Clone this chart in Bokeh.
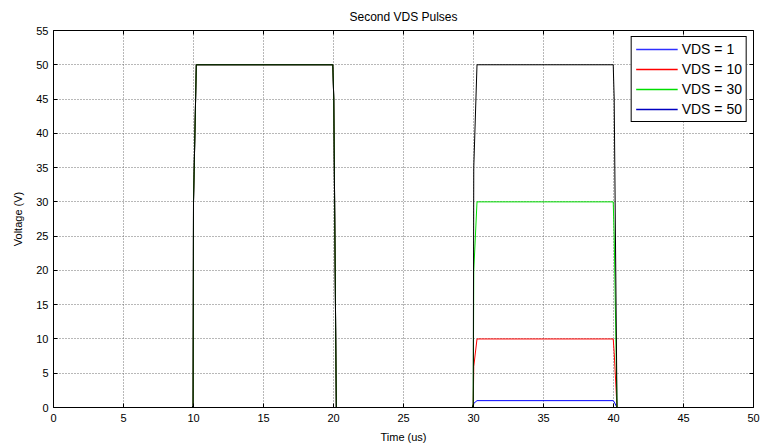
from bokeh.plotting import figure
from bokeh.models import LinearAxis, Range1d, FixedTicker, Legend, LegendItem
from bokeh.embed import file_html
from bokeh.resources import INLINE

# ---- data ----
time_us = [0, 9.9, 9.97, 10.0, 10.2, 19.95, 20.02, 20.2, 29.92, 29.98, 30.02, 30.25, 39.98, 40.05, 40.25, 50]
vds_1 = [0, 0, 0.3, 30, 50, 50, 45, 0, 0, 0.1, 0.6, 1, 1, 0.8, 0, 0]
vds_10 = [0, 0, 0.3, 30, 50, 50, 45, 0, 0, 0.3, 6, 10, 10, 8, 0, 0]
vds_30 = [0, 0, 0.3, 30, 50, 50, 45, 0, 0, 0.5, 20, 30, 30, 25, 0, 0]
vds_50 = [0, 0, 0.3, 30, 50, 50, 45, 0, 0, 0.5, 35, 50, 50, 45, 0, 0]
series_labels = ["VDS = 1", "VDS = 10", "VDS = 30", "VDS = 50"]
line_colors = ["#0000FF", "#FF0000", "#00DD00", "#000000"]
legend_colors = ["#3030FF", "#FF0000", "#00DD00", "#0000C0"]
x_ticks = [0, 5, 10, 15, 20, 25, 30, 35, 40, 45, 50]
y_ticks = [0, 5, 10, 15, 20, 25, 30, 35, 40, 45, 50, 55]

FONT = "Liberation Sans"

p = figure(width=761, height=448, output_backend="svg", toolbar_location=None,
           x_range=Range1d(0, 50), y_range=Range1d(0, 55),
           min_border_left=53, min_border_right=8, min_border_top=30, min_border_bottom=41,
           title="Second VDS Pulses")
p.title.align = "center"
p.title.text_font = FONT
p.title.text_font_size = "12px"
p.title.text_font_style = "normal"
p.title.text_color = "black"
p.title.offset = 0
p.title.standoff = 10
p.title.vertical_align = "top"
p.outline_line_color = None
p.background_fill_color = "white"

def style_axis(ax, labels=True):
    ax.axis_line_color = "black"
    ax.axis_line_width = 1
    ax.major_tick_in = 4
    ax.major_tick_out = 0
    ax.minor_tick_in = 0
    ax.minor_tick_out = 0
    ax.major_tick_line_color = "black"
    ax.major_label_text_font = FONT
    ax.major_label_text_font_size = "11px"
    ax.major_label_text_color = "black"
    ax.axis_label_text_font = FONT
    ax.axis_label_text_font_size = "11px"
    ax.axis_label_text_font_style = "normal"
    ax.axis_label_text_color = "black"
    if not labels:
        ax.major_label_text_font_size = "0px"
        ax.major_label_standoff = 0

p.xaxis.ticker = FixedTicker(ticks=x_ticks)
p.yaxis.ticker = FixedTicker(ticks=y_ticks)
style_axis(p.xaxis[0])
style_axis(p.yaxis[0])
p.xaxis.axis_label = "Time (us)"
p.yaxis.axis_label = "Voltage (V)"
p.xaxis.major_label_standoff = 6
p.yaxis.major_label_standoff = 5
p.xaxis.axis_label_standoff = 6
p.yaxis.axis_label_standoff = 9

top_ax = LinearAxis(ticker=FixedTicker(ticks=x_ticks))
right_ax = LinearAxis(ticker=FixedTicker(ticks=y_ticks))
style_axis(top_ax, labels=False)
style_axis(right_ax, labels=False)
p.add_layout(top_ax, "above")
p.add_layout(right_ax, "right")

p.xgrid.ticker = FixedTicker(ticks=x_ticks)
p.ygrid.ticker = FixedTicker(ticks=y_ticks)
p.grid.grid_line_color = "#707070"
p.grid.grid_line_dash = "1 2"
p.grid.grid_line_width = 1

for vals, c in zip([vds_1, vds_10, vds_30, vds_50], line_colors):
    p.line(time_us, vals, line_color=c, line_width=1)

items = []
for lab, c in zip(series_labels, legend_colors):
    # legend-only glyph placed outside the visible range
    r = p.line(x=[-10, -9], y=[-10, -10], line_color=c, line_width=1.5)
    items.append(LegendItem(label=lab, renderers=[r]))

legend = Legend(items=items, location="top_right")
legend.border_line_color = "black"
legend.border_line_width = 1.5
legend.border_line_alpha = 1
legend.background_fill_color = "white"
legend.background_fill_alpha = 1
legend.label_text_font = FONT
legend.label_text_font_size = "14px"
legend.label_text_color = "black"
legend.glyph_width = 42
legend.glyph_height = 16
legend.label_height = 16
legend.spacing = 4
legend.padding = 4
legend.margin = 6
legend.label_standoff = 4
p.add_layout(legend, "center")

open("out.html", "w").write(file_html(p, INLINE))
